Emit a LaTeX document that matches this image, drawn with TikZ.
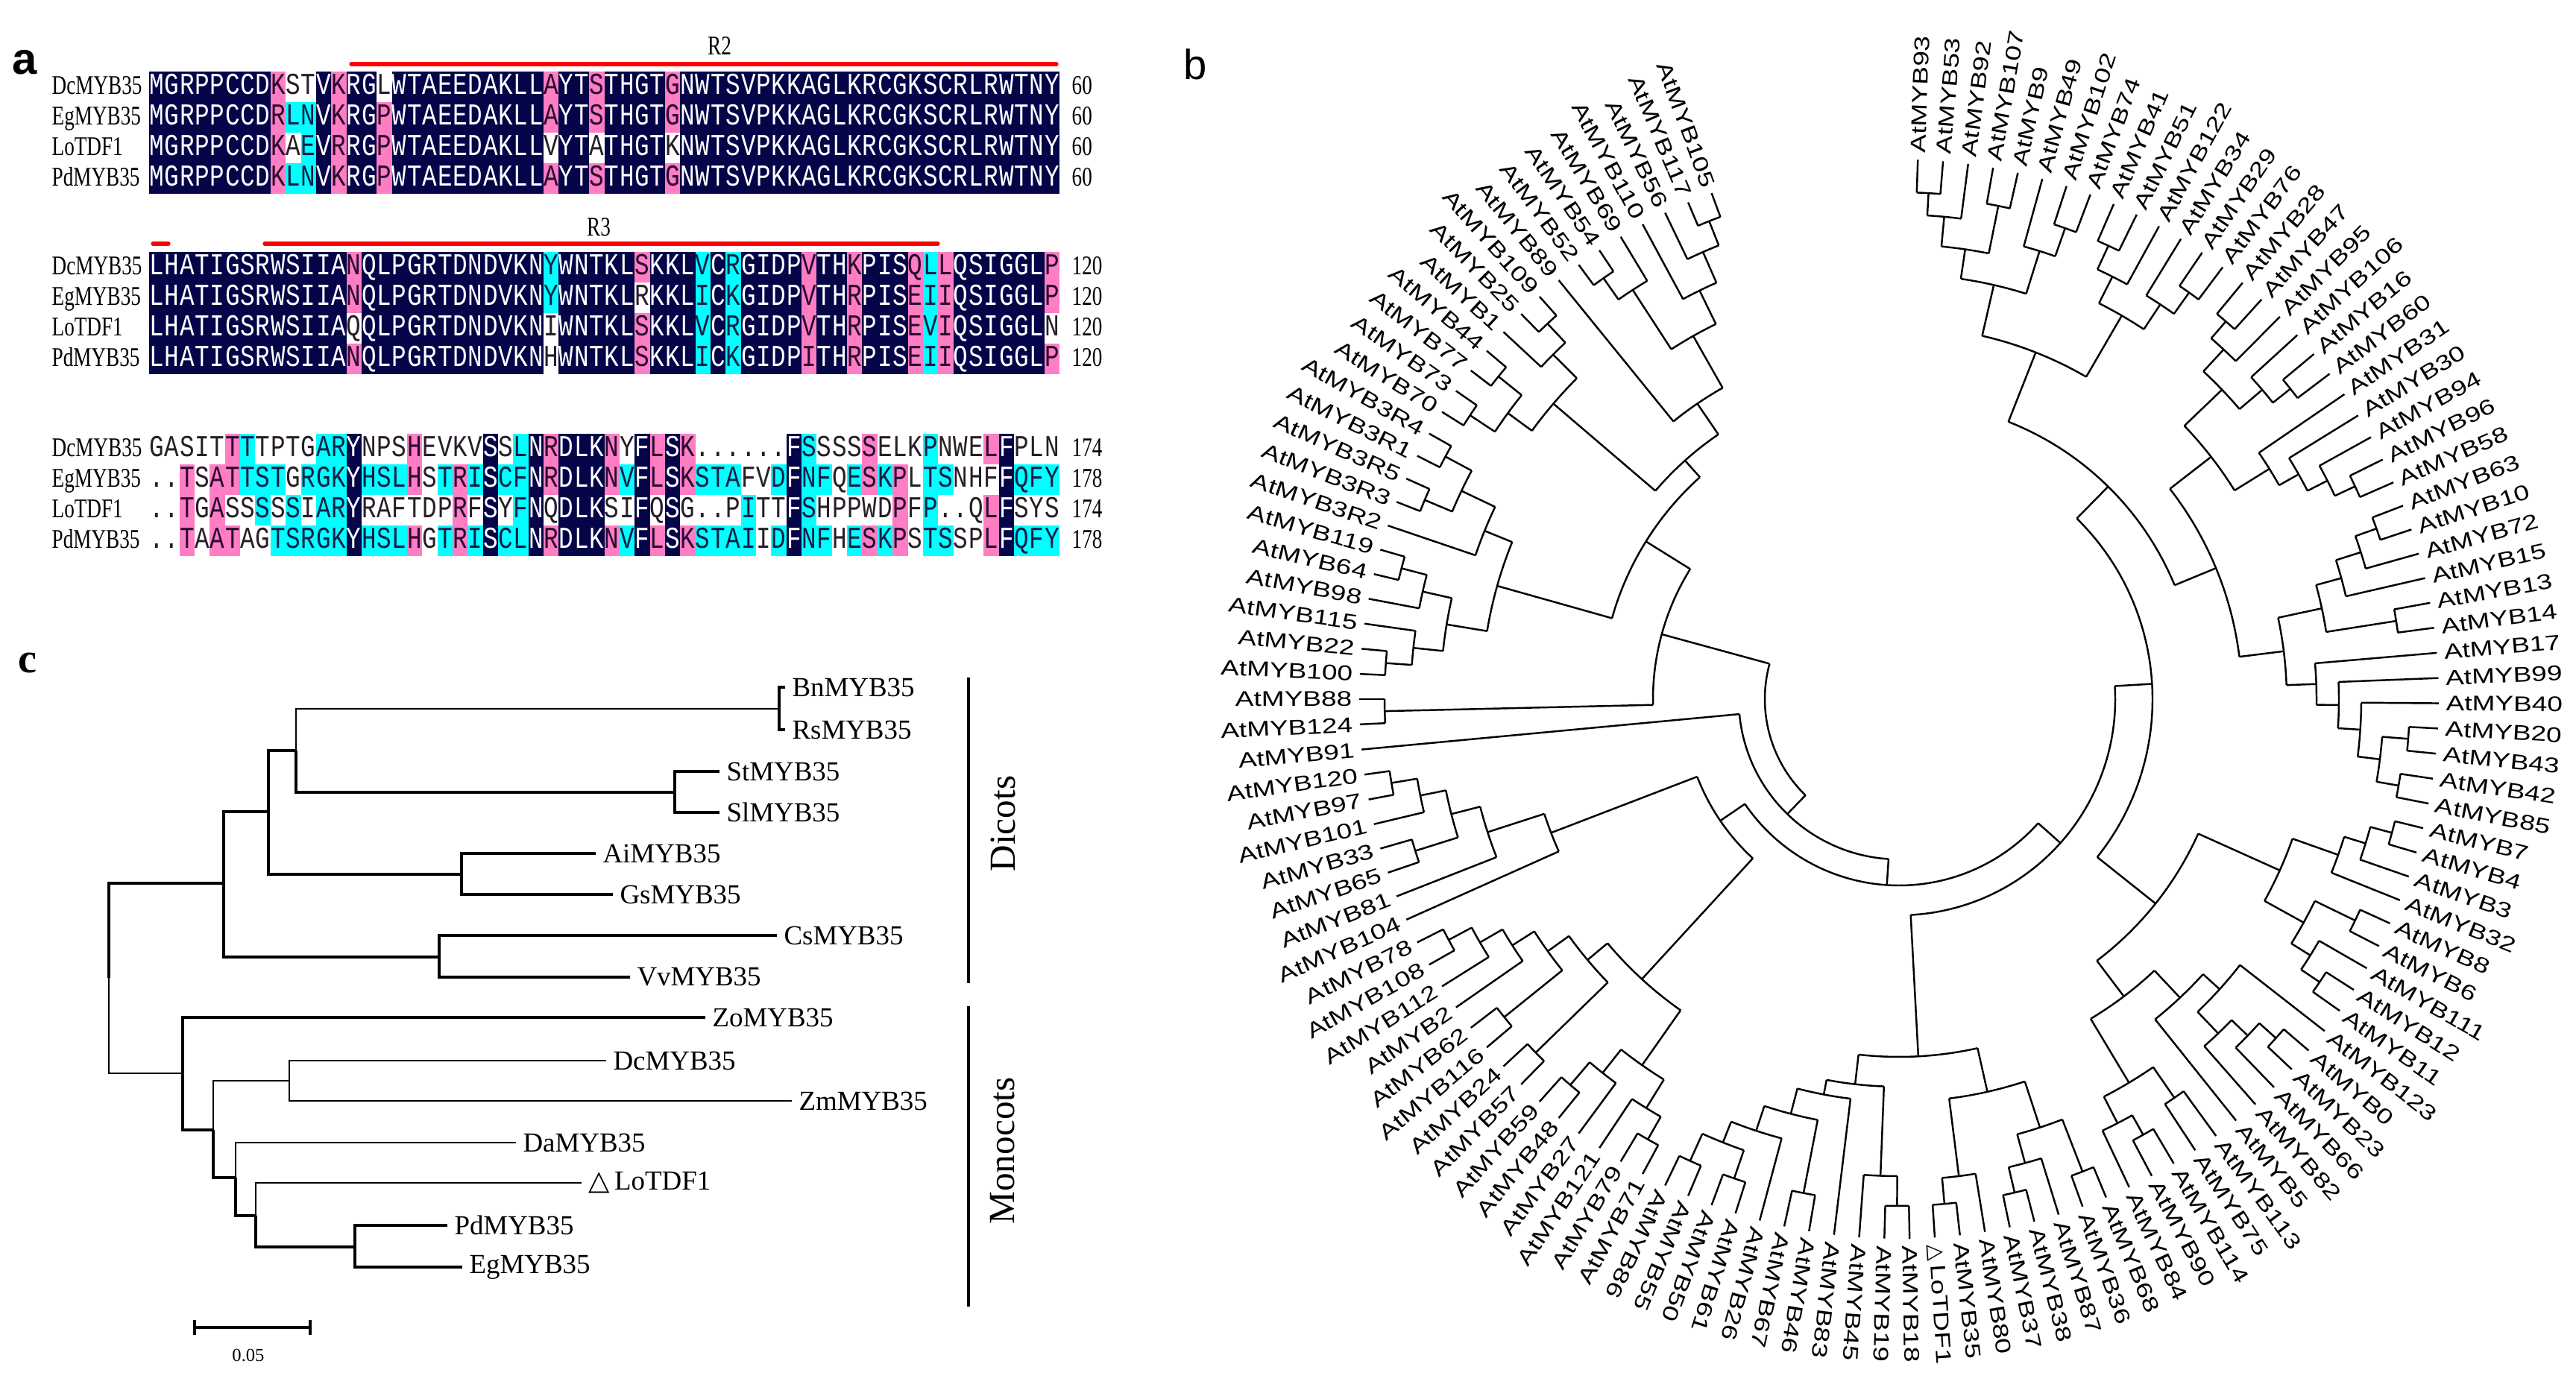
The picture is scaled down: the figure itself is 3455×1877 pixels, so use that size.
\documentclass[tikz,border=0pt]{standalone}
\usepackage{fontspec}
\usepackage{xstring}
\setmainfont{Liberation Serif}
\newfontfamily\seqfont[FakeStretch=0.8]{Liberation Mono}
\newfontfamily\namefont[FakeStretch=0.75]{Liberation Serif}
\newfontfamily\leaffont[FakeStretch=1.3]{Liberation Sans}
\newfontfamily\symfont{DejaVu Sans}
\newfontfamily\panelfont{Liberation Sans}
\definecolor{celln}{RGB}{4,4,72}
\definecolor{cellp}{RGB}{255,125,195}
\definecolor{cellc}{RGB}{0,255,255}
\definecolor{cellw}{RGB}{255,255,255}
\definecolor{txtn}{RGB}{255,255,255}
\definecolor{txtp}{RGB}{40,10,50}
\definecolor{txtc}{RGB}{20,30,70}
\definecolor{txtw}{RGB}{40,30,40}
\definecolor{regred}{RGB}{255,0,0}

\newcommand\tri{{\symfont\char"25B3}\,}

% one row of the alignment: top, name, colour codes, residues, number, id
\newcommand\alnrow[6]{%
  \node[seqname, anchor=base west] (#6-name) at (69,#1+31) {#2};
  \foreach \k in {1,...,60}{%
    \StrChar{#3}{\k}[\cc]%
    \StrChar{#4}{\k}[\rr]%
    \fill[fill=cell\cc] ({200+(\k-1)*20.35},#1) rectangle ++(20.6,41.3);
    \node[resid, text=txt\cc] (#6-\k) at ({200+(\k-0.5)*20.35},#1+31) {\rr};
  }
  \node[seqname, anchor=base west] (#6-num) at (1437,#1+31) {#5};
}

% one clade of the circular tree: name, radius, children
\newcommand\clade[3]{%
  \gdef\cmin{400}\gdef\cmax{-400}%
  \foreach \ch in {#3}{%
    \edef\ca{\csname ang@\ch\endcsname}%
    \edef\cr{\csname rad@\ch\endcsname}%
    \draw[branch] (\ca:#2) -- (\ca:\cr);
    \pgfmathsetmacro\tmpa{min(\cmin,\ca)}\global\let\cmin\tmpa
    \pgfmathsetmacro\tmpb{max(\cmax,\ca)}\global\let\cmax\tmpb
  }%
  \draw[branch] (\cmax:#2) arc[start angle=\cmax, end angle=\cmin, radius=#2];
  \pgfmathsetmacro\tmpc{(\cmin+\cmax)/2}%
  \expandafter\xdef\csname ang@#1\endcsname{\tmpc}%
  \expandafter\xdef\csname rad@#1\endcsname{#2}%
}

\begin{document}
\begin{tikzpicture}[x=0.01cm, y=-0.01cm,
  resid/.style={font=\seqfont\fontsize{11.6}{11.6}\selectfont, inner sep=0pt, anchor=base},
  seqname/.style={font=\namefont\fontsize{10.3}{10.3}\selectfont, inner sep=0pt},
  leaf/.style={font=\leaffont\fontsize{8.1}{8.1}\selectfont, inner sep=0pt},
  branch/.style={line width=0.7pt},
  clab/.style={font=\fontsize{10.5}{10.5}\selectfont, inner sep=2.5pt, anchor=west},
  thickbr/.style={line width=1.2pt},
  thinbr/.style={line width=0.6pt},
  regbar/.style={regred, line width=1.5pt, line cap=round}]
\useasboundingbox (0,0) rectangle (3455,1877);
\fill[white] (0,0) rectangle (3455,1877);

% panel a
\node[font=\panelfont\bfseries\fontsize{17}{17}\selectfont, inner sep=0pt] (pa) at (33,84) {a};
\node[seqname] (r2) at (965,62) {R2};
\draw[regbar] (471,86) -- (1417,86);
\node[seqname] (r3) at (803,305) {R3};
\draw[regbar] (205,327) -- (226,327);
\draw[regbar] (355,327) -- (1258,327);

\alnrow{96}{DcMYB35}{nnnnnnnnpwwnpnnwnnnnnnnnnnpnnpnnnnpnnnnnnnnnnnnnnnnnnnnnnnnn}{MGRPPCCDKSTVKRGLWTAEEDAKLLAYTSTHGTGNWTSVPKKAGLKRCGKSCRLRWTNY}{60}{a1dc}
\alnrow{137}{EgMYB35}{nnnnnnnnpccnpnnpnnnnnnnnnnpnnpnnnnpnnnnnnnnnnnnnnnnnnnnnnnnn}{MGRPPCCDRLNVKRGPWTAEEDAKLLAYTSTHGTGNWTSVPKKAGLKRCGKSCRLRWTNY}{60}{a1eg}
\alnrow{178}{LoTDF1}{nnnnnnnnpwcnpnnpnnnnnnnnnnwnnwnnnnwnnnnnnnnnnnnnnnnnnnnnnnnn}{MGRPPCCDKAEVRRGPWTAEEDAKLLVYTATHGTKNWTSVPKKAGLKRCGKSCRLRWTNY}{60}{a1lo}
\alnrow{219}{PdMYB35}{nnnnnnnnpccnpnnpnnnnnnnnnnpnnpnnnnpnnnnnnnnnnnnnnnnnnnnnnnnn}{MGRPPCCDKLNVKRGPWTAEEDAKLLAYTSTHGTGNWTSVPKKAGLKRCGKSCRLRWTNY}{60}{a1pd}

\alnrow{338}{DcMYB35}{nnnnnnnnnnnnnpnnnnnnnnnnnncnnnnnpnnncncnnnnpnnpnnnpcpnnnnnnp}{LHATIGSRWSIIANQLPGRTDNDVKNYWNTKLSKKLVCRGIDPVTHKPISQLLQSIGGLP}{120}{a2dc}
\alnrow{379}{EgMYB35}{nnnnnnnnnnnnnpnnnnnnnnnnnncnnnnnwnnncncnnnnpnnpnnnpcpnnnnnnp}{LHATIGSRWSIIANQLPGRTDNDVKNYWNTKLRKKLICKGIDPVTHRPISEIIQSIGGLP}{120}{a2eg}
\alnrow{420}{LoTDF1}{nnnnnnnnnnnnnwnnnnnnnnnnnnwnnnnnpnnncncnnnnpnnpnnnpcpnnnnnnw}{LHATIGSRWSIIAQQLPGRTDNDVKNIWNTKLSKKLVCRGIDPVTHRPISEVIQSIGGLN}{120}{a2lo}
\alnrow{461}{PdMYB35}{nnnnnnnnnnnnnpnnnnnnnnnnnnwnnnnnpnnncncnnnnpnnpnnnpcpnnnnnnp}{LHATIGSRWSIIANQLPGRTDNDVKNHWNTKLSKKLICKGIDPITHRPISEIIQSIGGLP}{120}{a2pd}

\alnrow{582}{DcMYB35}{wwwwwpcwwwwccnwwwpwwwwnwcnpnnnpwnpnpwwwwwwncwwwpwwwcwwwpnwww}{GASITTTTPTGARYNPSHEVKVSSLNRDLKNYFLSK......FSSSSSELKPNWELFPLN}{174}{a3dc}
\alnrow{623}{EgMYB35}{wwpwppcccwcccncccpwcpcnccnpnnnpcnpnpcccwwcnccwcpcpwccwwwnccc}{..TSATTSTGRGKYHSLHSTRISCFNRDLKNVFLSKSTAFVDFNFQESKPLTSNHFFQFY}{178}{a3eg}
\alnrow{664}{LoTDF1}{wwpwpwwcwcwccnwwwwwwpwnwcnwnnnwwnwnwwwwcwwncwwwwwpwcwwwpnwww}{..TGASSSSSIARYRAFTDPRFSYFNQDLKSIFQSG..PITTFSHPPWDPFP..QLFSYS}{174}{a3lo}
\alnrow{705}{PdMYB35}{wwpwppwwcccccncccpwcpcnccnpnnnpcnpnpccccwcnccwcpcpwccwwpnccc}{..TAATAGTSRGKYHSLHGTRISCLNRDLKNVFLSKSTAIIDFNFHESKPSTSSPLFQFY}{178}{a3pd}

% panel b
\node[font=\panelfont\fontsize{16}{16}\selectfont, inner sep=0pt] (pb) at (1603,86) {b};
\begin{scope}[shift={(2547,938)}, y=0.01cm]
\foreach \lab [count=\i] in {AtMYB93, AtMYB53, AtMYB92, AtMYB107, AtMYB9, AtMYB49, AtMYB102, AtMYB74, AtMYB41, AtMYB51,
  AtMYB122, AtMYB34, AtMYB29, AtMYB76, AtMYB28, AtMYB47, AtMYB95, AtMYB106, AtMYB16, AtMYB60,
  AtMYB31, AtMYB30, AtMYB94, AtMYB96, AtMYB58, AtMYB63, AtMYB10, AtMYB72, AtMYB15, AtMYB13,
  AtMYB14, AtMYB17, AtMYB99, AtMYB40, AtMYB20, AtMYB43, AtMYB42, AtMYB85, AtMYB7, AtMYB4,
  AtMYB3, AtMYB32, AtMYB8, AtMYB6, AtMYB111, AtMYB12, AtMYB11, AtMYB123, AtMYB0, AtMYB23,
  AtMYB66, AtMYB82, AtMYB5, AtMYB113, AtMYB75, AtMYB114, AtMYB90, AtMYB84, AtMYB68, AtMYB36,
  AtMYB87, AtMYB38, AtMYB37, AtMYB80, AtMYB35, \tri LoTDF1, AtMYB18, AtMYB19, AtMYB45, AtMYB83,
  AtMYB46, AtMYB67, AtMYB26, AtMYB61, AtMYB50, AtMYB55, AtMYB86, AtMYB71, AtMYB79, AtMYB121,
  AtMYB27, AtMYB48, AtMYB59, AtMYB57, AtMYB24, AtMYB116, AtMYB62, AtMYB2, AtMYB112, AtMYB108,
  AtMYB78, AtMYB104, AtMYB81, AtMYB65, AtMYB33, AtMYB101, AtMYB97, AtMYB120, AtMYB91, AtMYB124,
  AtMYB88, AtMYB100, AtMYB22, AtMYB115, AtMYB98, AtMYB64, AtMYB119, AtMYB3R2, AtMYB3R3, AtMYB3R5,
  AtMYB3R1, AtMYB3R4, AtMYB70, AtMYB73, AtMYB77, AtMYB44, AtMYB1, AtMYB25, AtMYB109, AtMYB89,
  AtMYB52, AtMYB54, AtMYB69, AtMYB110, AtMYB56, AtMYB117, AtMYB105}{
  \pgfmathsetmacro\a{88-(\i-1)*2.68}
  \expandafter\xdef\csname ang@\i\endcsname{\a}
  \expandafter\xdef\csname rad@\i\endcsname{724}
  \ifnum\i<78
    \node[leaf, anchor=west, rotate=\a] (b\i) at (\a:733) {\lab};
  \else
    \node[leaf, anchor=east, rotate=\a+180] (b\i) at (\a:733) {\lab};
  \fi
}
\clade{n1}{680}{1,2}
\clade{n2}{650}{n1,3}
\clade{n3}{675}{4,5}
\clade{n4}{610}{n2,n3}
\clade{n5}{670}{7,8}
\clade{n6}{630}{6,n5}
\clade{n7}{570}{n4,n6}
\clade{n8}{670}{9,10}
\clade{n9}{635}{n8,11}
\clade{n10}{670}{13,14}
\clade{n11}{635}{12,n10}
\clade{n12}{595}{n9,n11}
\clade{t1}{500}{n7,n12}
\clade{m1}{670}{15,16}
\clade{m2}{640}{m1,17}
\clade{m3}{670}{19,20}
\clade{m4}{640}{18,m3}
\clade{m5}{600}{m2,m4}
\clade{m6}{675}{24,25}
\clade{m7}{645}{23,m6}
\clade{m8}{615}{22,m7}
\clade{m9}{585}{21,m8}
\clade{t2}{530}{m5,m9}
\clade{k1}{680}{26,27}
\clade{k2}{650}{k1,28}
\clade{k3}{615}{k2,29}
\clade{k4}{675}{30,31}
\clade{k5}{580}{k3,k4}
\clade{d1}{685}{35,36}
\clade{d2}{680}{37,38}
\clade{d3}{650}{d1,d2}
\clade{d4}{620}{34,d3}
\clade{d5}{590}{33,d4}
\clade{d6}{560}{32,d5}
\clade{t3}{520}{k5,d6}
\clade{t4}{460}{t2,t3}
\clade{r1}{400}{t1,t4}
\clade{e1}{685}{39,40}
\clade{e2}{655}{e1,41}
\clade{e3}{625}{e2,42}
\clade{e4}{680}{43,44}
\clade{e5}{680}{46,47}
\clade{e6}{650}{45,e5}
\clade{e7}{620}{e4,e6}
\clade{e8}{560}{e3,e7}
\clade{e9}{680}{49,50}
\clade{e10}{650}{e9,51}
\clade{e11}{620}{e10,52}
\clade{e12}{580}{48,e11}
\clade{e13}{550}{e12,53}
\clade{e14}{650}{54,55}
\clade{e15}{670}{56,57}
\clade{e16}{640}{e15,58}
\clade{e17}{600}{e14,e16}
\clade{e18}{500}{e13,e17}
\clade{e19}{440}{e8,e18}
\clade{rt}{340}{r1,e19}
\clade{g1}{680}{67,68}
\clade{g2}{640}{g1,69}
\clade{g3}{680}{65,66}
\clade{g4}{645}{64,g3}
\clade{g5}{680}{62,63}
\clade{g6}{645}{61,g5}
\clade{g7}{680}{59,60}
\clade{g8}{605}{g7,g6}
\clade{g9}{540}{g8,g4}
\clade{h1}{680}{76,77}
\clade{h2}{680}{74,75}
\clade{h3}{640}{h2,h1}
\clade{h4}{610}{73,h3}
\clade{h5}{675}{71,72}
\clade{h6}{575}{h5,h4}
\clade{h7}{540}{70,h6}
\clade{gA}{520}{g2,h7}
\clade{bt}{480}{g9,gA}
\clade{q1}{680}{84,85}
\clade{p1}{685}{90,91}
\clade{p2}{650}{89,p1}
\clade{p3}{615}{88,p2}
\clade{p4}{680}{86,87}
\clade{p5}{580}{p4,p3}
\clade{q2}{545}{q1,p5}
\clade{q3}{680}{82,83}
\clade{q4}{640}{81,q3}
\clade{q5}{680}{78,79}
\clade{q6}{645}{q5,80}
\clade{q7}{600}{q6,q4}
\clade{q8}{510}{q7,q2}
\clade{s1}{690}{97,98}
\clade{s2}{655}{96,s1}
\clade{s3}{680}{94,95}
\clade{s4}{620}{s3,s2}
\clade{s5}{580}{93,s4}
\clade{s6}{500}{92,s5}
\clade{bl}{290}{q8,s6}
\clade{z1}{690}{100,101}
\clade{u1}{690}{111,112}
\clade{u2}{690}{109,110}
\clade{u3}{650}{u2,u1}
\clade{u4}{600}{108,u3}
\clade{v1}{690}{102,103}
\clade{v2}{655}{v1,104}
\clade{v3}{690}{106,107}
\clade{v4}{655}{105,v3}
\clade{v5}{615}{v2,v4}
\clade{w1}{560}{v5,u4}
\clade{x1}{690}{113,114}
\clade{x2}{690}{115,116}
\clade{x3}{650}{x1,x2}
\clade{x4}{690}{118,119}
\clade{x5}{655}{117,x4}
\clade{x6}{610}{x3,x5}
\clade{y1}{690}{121,122}
\clade{y2}{655}{y1,123}
\clade{y3}{690}{126,127}
\clade{y4}{655}{125,y3}
\clade{y5}{610}{124,y4}
\clade{y6}{560}{y2,y5}
\clade{y7}{480}{120,y6}
\clade{y8}{430}{x6,y7}
\clade{l1}{400}{w1,y8}
\clade{l2}{330}{z1,l1}
\clade{c3}{290}{rt,bt}
\clade{c2}{250}{c3,bl}
\clade{c1}{215}{c2,99}
\clade{c0}{180}{c1,l2}
\end{scope}

% panel c
\node[font=\bfseries\fontsize{16}{16}\selectfont, inner sep=0pt] (pc) at (37,890) {c};
\coordinate (cR) at (146,1312);
\coordinate (cD) at (300,1185);
\coordinate (cD1) at (360,1089);
\coordinate (cD2) at (397,1007);
\coordinate (cBR) at (1045,951);
\coordinate (cSS) at (905,1063);
\coordinate (cAG) at (619,1173);
\coordinate (cCV) at (589,1284);
\coordinate (cM) at (245,1440);
\coordinate (cM1) at (286,1516);
\coordinate (cDZ) at (388,1450);
\coordinate (cM2) at (316,1580);
\coordinate (cM3) at (343,1631);
\coordinate (cPE) at (476,1673);
\node[clab] (Bn) at (1053,922) {BnMYB35};
\node[clab] (Rs) at (1053,979) {RsMYB35};
\node[clab] (St) at (965,1035) {StMYB35};
\node[clab] (Sl) at (965,1090) {SlMYB35};
\node[clab] (Ai) at (799,1145) {AiMYB35};
\node[clab] (Gs) at (822,1200) {GsMYB35};
\node[clab] (Cs) at (1042,1255) {CsMYB35};
\node[clab] (Vv) at (845,1311) {VvMYB35};
\node[clab] (Zo) at (946,1365) {ZoMYB35};
\node[clab] (Dc) at (813,1423) {DcMYB35};
\node[clab] (Zm) at (1062,1477) {ZmMYB35};
\node[clab] (Da) at (692,1533) {DaMYB35};
\node[clab] (Lo) at (780,1587) {\tri LoTDF1};
\node[clab] (Pd) at (600,1644) {PdMYB35};
\node[clab] (Eg) at (620,1700) {EgMYB35};
\draw[thickbr] (cR) |- (cD);
\draw[thinbr] (cR) |- (cM);
\draw[thickbr] (cD) |- (cD1);
\draw[thickbr] (cD) |- (cCV);
\draw[thickbr] (cD1) |- (cD2);
\draw[thickbr] (cD1) |- (cAG);
\draw[thinbr] (cD2) |- (cBR);
\draw[thickbr] (cD2) |- (cSS);
\draw[thickbr] (cBR) |- (Bn.west);
\draw[thickbr] (cBR) |- (Rs.west);
\draw[thickbr] (cSS) |- (St.west);
\draw[thickbr] (cSS) |- (Sl.west);
\draw[thickbr] (cAG) |- (Ai.west);
\draw[thickbr] (cAG) |- (Gs.west);
\draw[thickbr] (cCV) |- (Cs.west);
\draw[thickbr] (cCV) |- (Vv.west);
\draw[thickbr] (cM) |- (Zo.west);
\draw[thickbr] (cM) |- (cM1);
\draw[thinbr] (cM1) |- (cDZ);
\draw[thickbr] (cM1) |- (cM2);
\draw[thinbr] (cDZ) |- (Dc.west);
\draw[thinbr] (cDZ) |- (Zm.west);
\draw[thinbr] (cM2) |- (Da.west);
\draw[thickbr] (cM2) |- (cM3);
\draw[thinbr] (cM3) |- (Lo.west);
\draw[thickbr] (cM3) |- (cPE);
\draw[thickbr] (cPE) |- (Pd.west);
\draw[thickbr] (cPE) |- (Eg.west);
\draw[thickbr] (261,1771) -- (261,1791) (261,1781) -- (416,1781) (416,1771) -- (416,1791);
\node[font=\fontsize{7}{7}\selectfont] (scl) at (333,1818) {0.05};
\draw[line width=1pt] (1299,909) -- (1299,1319);
\draw[line width=1pt] (1299,1350) -- (1299,1753);
\node[font=\fontsize{14}{14}\selectfont, rotate=90] (dic) at (1345,1105) {Dicots};
\node[font=\fontsize{14}{14}\selectfont, rotate=90] (mon) at (1345,1544) {Monocots};
\end{tikzpicture}
\end{document}
